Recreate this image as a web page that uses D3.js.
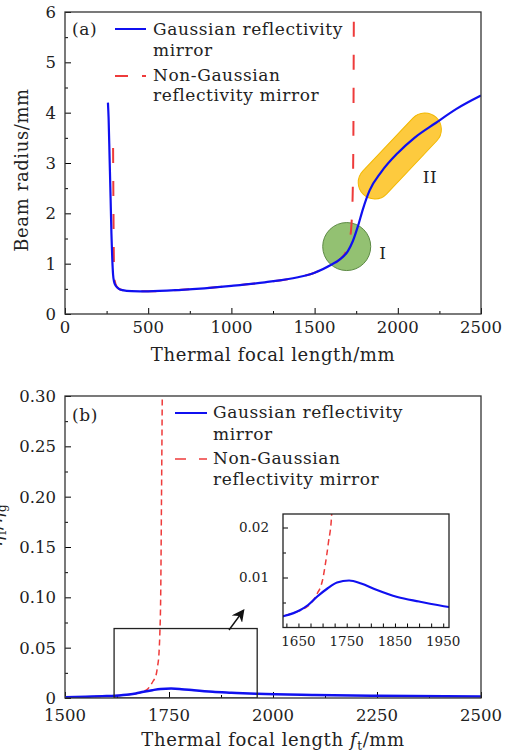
<!DOCTYPE html>
<html>
<head>
<meta charset="utf-8">
<script src="https://cdn.jsdelivr.net/npm/d3@7"></script>
<style>
  body { margin: 0; background: #fff; }
  svg text { font-family: "DejaVu Serif", "Liberation Serif", serif; fill: #222; }
  svg text.lg { font-size: 17px; letter-spacing: 0.6px; }
  svg text.ttl { font-size: 18px; letter-spacing: 0.6px; }
</style>
</head>
<body>
<div id="chart"></div>
<script>
const width = 512, height = 753;

// panel (a): beam radius vs thermal focal length
const gaussA = [
  [258, 4.2], [262, 3.9], [268, 3.1], [274, 2.3], [279, 1.6], [284, 1.1], [289, 0.78],
  [295, 0.64], [305, 0.56], [320, 0.51], [345, 0.475], [400, 0.455], [500, 0.45],
  [700, 0.48], [1000, 0.56], [1200, 0.63], [1400, 0.73], [1500, 0.82], [1600, 0.98],
  [1650, 1.08], [1700, 1.25], [1730, 1.45], [1760, 1.74], [1790, 2.08], [1830, 2.45],
  [1900, 2.82], [2000, 3.2], [2100, 3.5], [2230, 3.8], [2350, 4.07], [2500, 4.34]
];
const nonGaussA = [
  [289, 3.3], [291, 2.2], [293, 1.3], [296, 0.76], [300, 0.64], [310, 0.55], [325, 0.5],
  [350, 0.47], [400, 0.455], [500, 0.45], [700, 0.48], [1000, 0.56], [1200, 0.63],
  [1400, 0.73], [1500, 0.82], [1600, 0.98], [1650, 1.08], [1690, 1.25], [1710, 1.45],
  [1722, 1.8], [1729, 2.4], [1733, 3.5], [1736, 6.2]
];
const xTicksA = [0, 500, 1000, 1500, 2000, 2500];
const yTicksA = [0, 1, 2, 3, 4, 5, 6];
// highlighted regions: [x, y] centres
const regionI = [1693, 1.34];
const regionII = [2012, 3.14];

// panel (b)
const gaussB = [
  [1500, 0.0008], [1550, 0.0012], [1600, 0.0019], [1620, 0.0023], [1654, 0.0035],
  [1670, 0.0045], [1689, 0.0062], [1710, 0.0078], [1730, 0.009], [1755, 0.0094],
  [1780, 0.0088], [1810, 0.0076], [1855, 0.0061], [1900, 0.0052], [1962, 0.0041],
  [2100, 0.003], [2250, 0.0023], [2500, 0.0016]
];
const nonGaussB = [
  [1500, 0.0008], [1550, 0.0012], [1600, 0.0018], [1620, 0.0023], [1650, 0.0033],
  [1670, 0.0043], [1681, 0.0055], [1690, 0.007], [1695, 0.0079], [1700, 0.0095],
  [1705, 0.0122], [1712, 0.0169], [1719, 0.0228], [1722, 0.03], [1726, 0.045],
  [1728, 0.064], [1730, 0.1], [1732, 0.2], [1734, 0.31]
];
const xTicksB = [1500, 1750, 2000, 2250, 2500];
const yTicksB = [0, 0.05, 0.10, 0.15, 0.20, 0.25, 0.30];
const zoomBox = { x0: 1618, x1: 1962, y0: 0, y1: 0.069 };
const xTicksInset = [1650, 1750, 1850, 1950];
const yTicksInset = [0.01, 0.02];

const blue = "#1010f0", red = "#ee3b3b";

const svg = d3.select("#chart").append("svg")
  .attr("width", width).attr("height", height);

const defs = svg.append("defs");

function clip(id, x, y, w, h) {
  defs.append("clipPath").attr("id", id)
    .append("rect").attr("x", x).attr("y", y).attr("width", w).attr("height", h);
}

// ---------- panel (a) ----------
const xA = d3.scaleLinear().domain([0, 2500]).range([65, 481]);
const yA = d3.scaleLinear().domain([0, 6]).range([314, 12]);
clip("clipA", 65, 12, 416, 302);

const gA = svg.append("g");

const ax = gA.append("g")
  .attr("transform", "translate(0,314)")
  .call(d3.axisBottom(xA).tickValues(d3.range(0, 2501, 250)).tickSize(-6).tickFormat(""));
ax.selectAll(".tick line").attr("y2", (d, i) => i % 2 ? -3 : -6);
const ay = gA.append("g")
  .attr("transform", "translate(65,0)")
  .call(d3.axisLeft(yA).tickValues(d3.range(0, 6.01, 0.5)).tickSize(-6).tickFormat(""));
ay.selectAll(".tick line").attr("x2", (d, i) => i % 2 ? 3 : 6);
gA.selectAll(".domain").remove();

gA.selectAll(".xlabA").data(xTicksA).join("text")
  .attr("x", d => xA(d)).attr("y", 333)
  .attr("text-anchor", "middle").attr("font-size", 16.5).text(d => d);
gA.selectAll(".ylabA").data(yTicksA).join("text")
  .attr("x", 56).attr("y", d => yA(d)).attr("dy", "0.36em")
  .attr("text-anchor", "end").attr("font-size", 16.5).text(d => d);

gA.append("text").attr("class", "ttl").attr("x", 273).attr("y", 361)
  .attr("text-anchor", "middle").text("Thermal focal length/mm");
gA.append("text").attr("class", "ttl").attr("transform", "translate(28,170) rotate(-90)")
  .attr("text-anchor", "middle").text("Beam radius/mm");

const plotA = gA.append("g").attr("clip-path", "url(#clipA)");

// region II capsule
plotA.append("rect")
  .attr("x", -53).attr("y", -16.5).attr("width", 106).attr("height", 33)
  .attr("rx", 16.5)
  .attr("transform", `translate(${xA(regionII[0])},${yA(regionII[1])}) rotate(-46.6)`)
  .attr("fill", "#fdca3e").attr("stroke", "#f2b800").attr("stroke-width", 1);
// region I circle
plotA.append("circle")
  .attr("cx", xA(regionI[0])).attr("cy", yA(regionI[1])).attr("r", 24)
  .attr("fill", "#93c172").attr("stroke", "#5d8a45").attr("stroke-width", 1);

const lineA = d3.line().x(d => xA(d[0])).y(d => yA(d[1])).curve(d3.curveMonotoneX);

plotA.append("path").datum(nonGaussA).attr("d", lineA)
  .attr("fill", "none").attr("stroke", red).attr("stroke-width", 2)
  .attr("stroke-dasharray", "15,18");
plotA.append("path").datum(gaussA).attr("d", lineA)
  .attr("fill", "none").attr("stroke", blue).attr("stroke-width", 2.2);

gA.append("text").attr("class", "lg").attr("x", 383).attr("y", 259)
  .attr("text-anchor", "middle").text("I");
gA.append("text").attr("class", "lg").attr("x", 430).attr("y", 183)
  .attr("text-anchor", "middle").text("II");

// legend (a)
gA.append("text").attr("class", "lg").attr("x", 72).attr("y", 35).text("(a)");
gA.append("line").attr("x1", 115).attr("x2", 146).attr("y1", 29).attr("y2", 29)
  .attr("stroke", blue).attr("stroke-width", 2);
gA.append("text").attr("class", "lg").attr("x", 153).attr("y", 35).text("Gaussian reflectivity");
gA.append("text").attr("class", "lg").attr("x", 153).attr("y", 56).text("mirror");
gA.append("line").attr("x1", 115).attr("x2", 146).attr("y1", 76).attr("y2", 76)
  .attr("stroke", red).attr("stroke-width", 2).attr("stroke-dasharray", "13,14");
gA.append("text").attr("class", "lg").attr("x", 153).attr("y", 81).text("Non-Gaussian");
gA.append("text").attr("class", "lg").attr("x", 153).attr("y", 101).text("reflectivity mirror");

gA.append("rect").attr("x", 65).attr("y", 12).attr("width", 416).attr("height", 302)
  .attr("fill", "none").attr("stroke", "#333").attr("stroke-width", 1.3);

// ---------- panel (b) ----------
const xB = d3.scaleLinear().domain([1500, 2500]).range([65, 481]);
const yB = d3.scaleLinear().domain([0, 0.30]).range([698, 396]);
clip("clipB", 65, 396, 416, 302);

const gB = svg.append("g");
const bx = gB.append("g")
  .attr("transform", "translate(0,698)")
  .call(d3.axisBottom(xB).tickValues(d3.range(1500, 2501, 125)).tickSize(-6).tickFormat(""));
bx.selectAll(".tick line").attr("y2", (d, i) => i % 2 ? -3 : -6);
const by = gB.append("g")
  .attr("transform", "translate(65,0)")
  .call(d3.axisLeft(yB).tickValues(d3.range(0, 0.3001, 0.025)).tickSize(-6).tickFormat(""));
by.selectAll(".tick line").attr("x2", (d, i) => i % 2 ? 3 : 6);
gB.selectAll(".domain").remove();

gB.selectAll(".xlabB").data(xTicksB).join("text")
  .attr("x", d => xB(d)).attr("y", 721)
  .attr("text-anchor", "middle").attr("font-size", 16.5).text(d => d);
gB.selectAll(".ylabB").data(yTicksB).join("text")
  .attr("x", 56).attr("y", d => yB(d)).attr("dy", "0.36em")
  .attr("text-anchor", "end").attr("font-size", 16.5)
  .text(d => d === 0 ? "0" : d.toFixed(2));

const xt = gB.append("text").attr("class", "ttl").attr("x", 273).attr("y", 746)
  .attr("text-anchor", "middle");
xt.append("tspan").text("Thermal focal length ");
xt.append("tspan").attr("font-style", "italic").text("f");
xt.append("tspan").attr("font-size", 12).attr("dy", 4).text("t");
xt.append("tspan").attr("dy", -4).text("/mm");

// y title of (b) sits mostly beyond the left edge, as in the source figure
const yt = gB.append("text").attr("class", "ttl").attr("transform", "translate(2,525) rotate(-90)")
  .attr("text-anchor", "middle");
yt.append("tspan").attr("font-style", "italic").text("η");
yt.append("tspan").attr("font-size", 12).attr("dy", 4).text("f");
yt.append("tspan").attr("dy", -4).text("/");
yt.append("tspan").attr("font-style", "italic").text("η");
yt.append("tspan").attr("font-size", 12).attr("dy", 4).text("g");

const plotB = gB.append("g").attr("clip-path", "url(#clipB)");
const lineB = d3.line().x(d => xB(d[0])).y(d => yB(d[1])).curve(d3.curveMonotoneX);

plotB.append("path").datum(nonGaussB).attr("d", lineB)
  .attr("fill", "none").attr("stroke", red).attr("stroke-width", 1.5)
  .attr("stroke-dasharray", "6,4");
plotB.append("path").datum(gaussB).attr("d", lineB)
  .attr("fill", "none").attr("stroke", blue).attr("stroke-width", 2.5);

// zoom box
plotB.append("rect")
  .attr("x", xB(zoomBox.x0)).attr("y", yB(zoomBox.y1))
  .attr("width", xB(zoomBox.x1) - xB(zoomBox.x0))
  .attr("height", yB(zoomBox.y0) - yB(zoomBox.y1))
  .attr("fill", "none").attr("stroke", "#222").attr("stroke-width", 1.3);

// arrow
defs.append("marker").attr("id", "arrowhead")
  .attr("viewBox", "0 0 10 10").attr("refX", 8).attr("refY", 5)
  .attr("markerWidth", 9).attr("markerHeight", 9).attr("orient", "auto")
  .append("path").attr("d", "M0,0 L10,5 L0,10 L3,5 Z").attr("fill", "#111");
gB.append("line").attr("x1", 229).attr("y1", 630).attr("x2", 243).attr("y2", 611)
  .attr("stroke", "#111").attr("stroke-width", 1.4).attr("marker-end", "url(#arrowhead)");

// legend (b)
gB.append("text").attr("class", "lg").attr("x", 72).attr("y", 421).text("(b)");
gB.append("line").attr("x1", 175).attr("x2", 207).attr("y1", 413).attr("y2", 413)
  .attr("stroke", blue).attr("stroke-width", 2);
gB.append("text").attr("class", "lg").attr("x", 213).attr("y", 418).text("Gaussian reflectivity");
gB.append("text").attr("class", "lg").attr("x", 213).attr("y", 440).text("mirror");
gB.append("line").attr("x1", 175).attr("x2", 207).attr("y1", 459).attr("y2", 459)
  .attr("stroke", red).attr("stroke-width", 1.5).attr("stroke-dasharray", "11,13");
gB.append("text").attr("class", "lg").attr("x", 213).attr("y", 464).text("Non-Gaussian");
gB.append("text").attr("class", "lg").attr("x", 213).attr("y", 485).text("reflectivity mirror");

gB.append("rect").attr("x", 65).attr("y", 396).attr("width", 416).attr("height", 302)
  .attr("fill", "none").attr("stroke", "#333").attr("stroke-width", 1.3);

// ---------- inset ----------
const xI = d3.scaleLinear().domain([1618, 1962]).range([283, 449]);
const yI = d3.scaleLinear().domain([0, 0.0227]).range([627.5, 514]);
clip("clipI", 283, 514, 166, 113.5);

const gI = svg.append("g");
gI.append("rect").attr("x", 283).attr("y", 514).attr("width", 166).attr("height", 113.5)
  .attr("fill", "#fff");
gI.append("g")
  .attr("transform", "translate(0,627.5)")
  .call(d3.axisBottom(xI).tickValues(d3.range(1625, 1961, 25)).tickSize(-4).tickFormat(""));
const iy = gI.append("g")
  .attr("transform", "translate(283,0)")
  .call(d3.axisLeft(yI).tickValues([0.005, 0.01, 0.015, 0.02]).tickSize(-4).tickFormat(""));
iy.selectAll(".tick line").attr("x2", (d, i) => i % 2 ? 5 : 3);
gI.selectAll(".domain").remove();

gI.selectAll(".xlabI").data(xTicksInset).join("text")
  .attr("x", d => xI(d)).attr("y", 646)
  .attr("text-anchor", "middle").attr("font-size", 13.5).text(d => d);
gI.selectAll(".ylabI").data(yTicksInset).join("text")
  .attr("x", 269).attr("y", d => yI(d)).attr("dy", "0.36em")
  .attr("text-anchor", "end").attr("font-size", 13.5).text(d => d.toFixed(2));

const plotI = gI.append("g").attr("clip-path", "url(#clipI)");
const lineI = d3.line().x(d => xI(d[0])).y(d => yI(d[1])).curve(d3.curveMonotoneX);
plotI.append("path").datum(nonGaussB).attr("d", lineI)
  .attr("fill", "none").attr("stroke", red).attr("stroke-width", 1.5)
  .attr("stroke-dasharray", "6,4");
plotI.append("path").datum(gaussB).attr("d", lineI)
  .attr("fill", "none").attr("stroke", blue).attr("stroke-width", 2.2);

gI.append("rect").attr("x", 283).attr("y", 514).attr("width", 166).attr("height", 113.5)
  .attr("fill", "none").attr("stroke", "#222").attr("stroke-width", 1.3);
</script>
</body>
</html>
